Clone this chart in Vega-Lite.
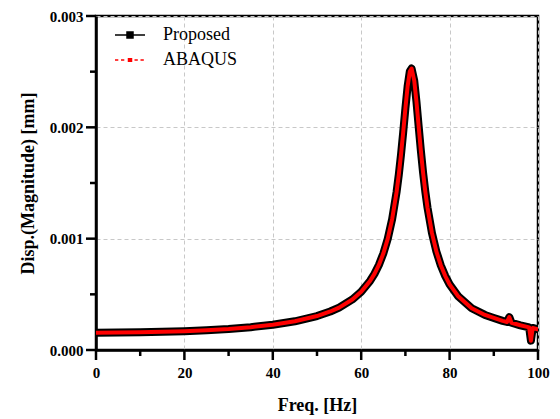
{
  "$schema": "https://vega.github.io/schema/vega-lite/v6.json",
  "width": 442,
  "height": 334,
  "autosize": "none",
  "padding": {"left": 96, "top": 16, "right": 22, "bottom": 69},
  "background": "white",
  "config": {
    "view": {"stroke": "black", "strokeWidth": 2.5},
    "font": "Liberation Serif"
  },
  "datasets": {
    "curve": [
      {"f": 0, "p": 0.000156, "a": 0.000156},
      {"f": 5, "p": 0.000157, "a": 0.000157},
      {"f": 10, "p": 0.000159, "a": 0.000159},
      {"f": 15, "p": 0.000163, "a": 0.000163},
      {"f": 20, "p": 0.000169, "a": 0.000169},
      {"f": 25, "p": 0.000178, "a": 0.000178},
      {"f": 30, "p": 0.000189, "a": 0.000189},
      {"f": 35, "p": 0.000205, "a": 0.000205},
      {"f": 40, "p": 0.000227, "a": 0.000227},
      {"f": 45, "p": 0.000258, "a": 0.000258},
      {"f": 50, "p": 0.000305, "a": 0.000305},
      {"f": 53, "p": 0.000346, "a": 0.000346},
      {"f": 55, "p": 0.000381, "a": 0.000381},
      {"f": 58, "p": 0.000454, "a": 0.000454},
      {"f": 60, "p": 0.000523, "a": 0.000523},
      {"f": 62, "p": 0.00062, "a": 0.00062},
      {"f": 63, "p": 0.000684, "a": 0.000684},
      {"f": 64, "p": 0.000764, "a": 0.000764},
      {"f": 65, "p": 0.000866, "a": 0.000866},
      {"f": 66, "p": 0.000998, "a": 0.000998},
      {"f": 67, "p": 0.001175, "a": 0.001175},
      {"f": 68, "p": 0.001418, "a": 0.001418},
      {"f": 68.5, "p": 0.001573, "a": 0.001573},
      {"f": 69, "p": 0.001753, "a": 0.001753},
      {"f": 69.5, "p": 0.001955, "a": 0.001955},
      {"f": 70, "p": 0.00217, "a": 0.00217},
      {"f": 70.5, "p": 0.002368, "a": 0.002368},
      {"f": 71, "p": 0.002502, "a": 0.002502},
      {"f": 71.4, "p": 0.002528, "a": 0.002528},
      {"f": 72, "p": 0.00242, "a": 0.00242},
      {"f": 72.5, "p": 0.002231, "a": 0.002231},
      {"f": 73, "p": 0.002008, "a": 0.002008},
      {"f": 73.5, "p": 0.00179, "a": 0.00179},
      {"f": 74, "p": 0.001593, "a": 0.001593},
      {"f": 74.5, "p": 0.001423, "a": 0.001423},
      {"f": 75, "p": 0.001279, "a": 0.001279},
      {"f": 76, "p": 0.001052, "a": 0.001052},
      {"f": 77, "p": 0.000886, "a": 0.000886},
      {"f": 78, "p": 0.000762, "a": 0.000762},
      {"f": 79, "p": 0.000666, "a": 0.000666},
      {"f": 80, "p": 0.00059, "a": 0.00059},
      {"f": 82, "p": 0.00048, "a": 0.00048},
      {"f": 85, "p": 0.000375, "a": 0.000375},
      {"f": 88, "p": 0.000315, "a": 0.000315},
      {"f": 90, "p": 0.000288, "a": 0.000288},
      {"f": 92, "p": 0.000262, "a": 0.000262},
      {"f": 93, "p": 0.000252, "a": 0.000252},
      {"f": 93.5, "p": 0.000296, "a": 0.000296},
      {"f": 94, "p": 0.000245, "a": 0.000245},
      {"f": 96, "p": 0.000222, "a": 0.000222},
      {"f": 98, "p": 0.000203, "a": 0.000203},
      {"f": 98.4, "p": 0.000084, "a": 0.000084},
      {"f": 98.8, "p": 0.000198, "a": 0.000198},
      {"f": 100, "p": 0.000185, "a": 0.000185}
    ],
    "xmajor": [{"t": 0}, {"t": 20}, {"t": 40}, {"t": 60}, {"t": 80}, {"t": 100}],
    "xminor": [{"t": 10}, {"t": 30}, {"t": 50}, {"t": 70}, {"t": 90}],
    "ymajor": [{"t": 0}, {"t": 0.001}, {"t": 0.002}, {"t": 0.003}],
    "yminor": [{"t": 0.0005}, {"t": 0.0015}, {"t": 0.0025}]
  },
  "layer": [
    {
      "data": {"name": "curve"},
      "mark": {"type": "line", "strokeWidth": 8, "strokeCap": "round", "strokeJoin": "round", "clip": true},
      "encoding": {
        "x": {
          "field": "f", "type": "quantitative",
          "scale": {"domain": [0, 100], "nice": false, "zero": false},
          "axis": {
            "title": "Freq. [Hz]",
            "values": [0, 20, 40, 60, 80, 100],
            "format": "d",
            "ticks": false,
            "grid": true,
            "gridDash": [4, 3],
            "gridColor": "#c8c8c8",
            "gridWidth": 1,
            "domainColor": "#000000", "domainWidth": 2.5,
            "labelFont": "Liberation Serif", "labelFontWeight": "bold", "labelFontSize": 15, "labelColor": "black",
            "labelPadding": 15, "labelFlush": false, "labelOverlap": false,
            "titleFont": "Liberation Serif", "titleFontWeight": "bold", "titleFontSize": 18, "titleColor": "black",
            "titlePadding": 16
          }
        },
        "y": {
          "field": "p", "type": "quantitative",
          "scale": {"domain": [0, 0.003], "nice": false},
          "axis": {
            "title": "Disp.(Magnitude) [mm]",
            "values": [0, 0.001, 0.002, 0.003],
            "format": ".3f",
            "ticks": false,
            "grid": true,
            "gridDash": [4, 3],
            "gridColor": "#c8c8c8",
            "gridWidth": 1,
            "domainColor": "#000000", "domainWidth": 2.5,
            "labelFont": "Liberation Serif", "labelFontWeight": "bold", "labelFontSize": 15, "labelColor": "black",
            "labelPadding": 13, "labelFlush": false, "labelOverlap": false,
            "titleFont": "Liberation Serif", "titleFontWeight": "bold", "titleFontSize": 18, "titleColor": "black",
            "titlePadding": 12
          }
        },
        "color": {
          "datum": "Proposed",
          "scale": {"domain": ["Proposed", "ABAQUS"], "range": ["black", "red"]},
          "legend": {
            "orient": "none",
            "legendX": 18,
            "legendY": 3,
            "title": null,
            "padding": 0,
            "symbolSize": 900,
            "symbolType": "M-1,0L1,0",
            "symbolStrokeWidth": 1.5,
            "labelFont": "Liberation Serif",
            "labelFontSize": 18,
            "labelColor": "black",
            "labelOffset": 17,
            "rowPadding": -1,
            "encode": {
              "symbols": {
                "update": {
                  "shape": {"signal": "datum.value === 'Proposed' ? 'M-1,0L1,0M-0.2,-0.2L0.2,-0.2L0.2,0.2L-0.2,0.2Z' : 'M-1,0L-0.78,0M-0.6,0L-0.38,0M-0.1,-0.08L0.1,-0.08L0.1,0.08L-0.1,0.08ZM0.3,0L0.52,0M0.7,0L0.92,0'"},
                  "fill": {"signal": "datum.value === 'Proposed' ? 'black' : 'red'"},
                  "stroke": {"signal": "datum.value === 'Proposed' ? 'black' : 'red'"},
                  "strokeWidth": {"value": 1.5},
                  "fillOpacity": {"value": 1},
                  "opacity": {"value": 1}
                }
              }
            }
          }
        }
      }
    },
    {
      "data": {"name": "curve"},
      "mark": {"type": "line", "strokeWidth": 4, "strokeCap": "round", "strokeJoin": "round", "clip": true},
      "encoding": {
        "x": {"field": "f", "type": "quantitative"},
        "y": {"field": "a", "type": "quantitative"},
        "color": {"datum": "ABAQUS"}
      }
    },
    {
      "data": {"name": "xmajor"},
      "mark": {"type": "rule", "color": "black", "strokeWidth": 2.5, "y2Offset": 10, "clip": false},
      "encoding": {
        "x": {"field": "t", "type": "quantitative"},
        "y": {"datum": 0},
        "y2": {"datum": 0}
      }
    },
    {
      "data": {"name": "xminor"},
      "mark": {"type": "rule", "color": "black", "strokeWidth": 2.5, "y2Offset": 6, "clip": false},
      "encoding": {
        "x": {"field": "t", "type": "quantitative"},
        "y": {"datum": 0},
        "y2": {"datum": 0}
      }
    },
    {
      "data": {"name": "ymajor"},
      "mark": {"type": "rule", "color": "black", "strokeWidth": 2.5, "x2Offset": -10, "clip": false},
      "encoding": {
        "y": {"field": "t", "type": "quantitative"},
        "x": {"datum": 0},
        "x2": {"datum": 0}
      }
    },
    {
      "data": {"name": "yminor"},
      "mark": {"type": "rule", "color": "black", "strokeWidth": 2.5, "x2Offset": -6, "clip": false},
      "encoding": {
        "y": {"field": "t", "type": "quantitative"},
        "x": {"datum": 0},
        "x2": {"datum": 0}
      }
    }
  ]
}
